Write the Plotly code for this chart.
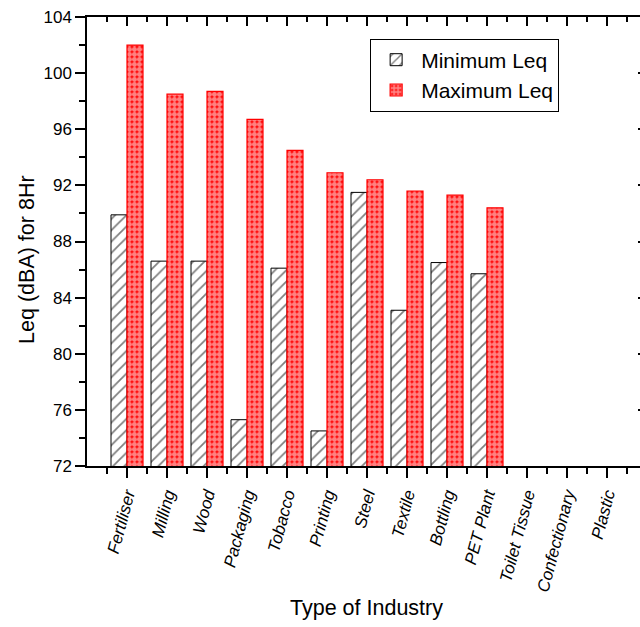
import plotly.graph_objects as go

# Noise levels by industry, dBA (Leq over 8 hours)
industries = ["Fertiliser", "Milling", "Wood", "Packaging", "Tobacco", "Printing",
              "Steel", "Textile", "Bottling", "PET Plant", "Toilet Tissue",
              "Confectionary", "Plastic"]
min_leq = [89.9, 86.6, 86.6, 75.3, 86.1, 74.5, 91.5, 83.1, 86.5, 85.7, None, None, None]
max_leq = [102.0, 98.5, 98.7, 96.7, 94.5, 92.9, 92.4, 91.6, 91.3, 90.4, None, None, None]

y_ticks = [72, 76, 80, 84, 88, 92, 96, 100, 104]

pos = list(range(len(industries)))
minor_pos = [p - 0.5 for p in pos] + [pos[-1] + 0.5]

FONT = "Liberation Sans, Arial, sans-serif"
X_RANGE = [-1, 12.825]
Y_RANGE = [72, 104]

fig = go.Figure()
fig.add_trace(go.Bar(
    x=pos, y=min_leq, name="Minimum Leq",
    marker=dict(color="white", line=dict(color="black", width=1),
                pattern=dict(shape="/", fgcolor="black", bgcolor="white",
                             size=8, solidity=0.22)),
))
fig.add_trace(go.Bar(
    x=pos, y=max_leq, name="Maximum Leq",
    marker=dict(color="red", line=dict(color="red", width=1.2),
                pattern=dict(shape=".", fgcolor="white", bgcolor="red",
                             size=5, solidity=0.78)),
))
# helper traces so the mirrored tick axes are drawn
fig.add_trace(go.Scatter(x=[], y=[], xaxis="x2", yaxis="y", showlegend=False, hoverinfo="skip"))
fig.add_trace(go.Scatter(x=[], y=[], xaxis="x", yaxis="y2", showlegend=False, hoverinfo="skip"))

fig.update_layout(
    width=640, height=627,
    margin=dict(l=87, r=0, t=17, b=161),
    paper_bgcolor="white", plot_bgcolor="white",
    font=dict(family=FONT, color="black"),
    barmode="group", bargap=0.2, bargroupgap=0,
    showlegend=True,
    legend=dict(x=0.512, y=0.952, xanchor="left", yanchor="top",
                bordercolor="black", borderwidth=1, bgcolor="white",
                font=dict(size=21, family=FONT), tracegroupgap=0,
                itemwidth=40),
    xaxis=dict(
        range=X_RANGE, tickmode="array", tickvals=pos, ticktext=industries,
        tickangle=-75, tickfont=dict(size=17, family=FONT, style="italic"),
        ticks="outside", ticklen=10, tickwidth=1.5, tickcolor="black",
        minor=dict(tickvals=minor_pos, ticks="outside", ticklen=6,
                   tickwidth=1.5, tickcolor="black"),
        showline=True, linecolor="black", linewidth=1.5,
        showgrid=False, zeroline=False,
    ),
    xaxis2=dict(
        overlaying="x", side="top", anchor="y", range=X_RANGE,
        tickmode="array", tickvals=pos, showticklabels=False,
        ticks="inside", ticklen=9, tickwidth=1.5, tickcolor="black",
        minor=dict(tickvals=minor_pos, ticks="inside", ticklen=5,
                   tickwidth=1.5, tickcolor="black"),
        showline=True, linecolor="black", linewidth=1.5,
        showgrid=False, zeroline=False,
    ),
    yaxis=dict(
        range=Y_RANGE, tickmode="array", tickvals=y_ticks,
        tickfont=dict(size=17, family=FONT),
        ticks="outside", ticklen=10, tickwidth=1.5, tickcolor="black",
        minor=dict(dtick=2, tick0=72, ticks="outside", ticklen=6,
                   tickwidth=1.5, tickcolor="black"),
        showline=True, linecolor="black", linewidth=1.5,
        showgrid=False, zeroline=False,
    ),
    yaxis2=dict(
        overlaying="y", side="right", anchor="x", range=Y_RANGE,
        tickmode="array", tickvals=y_ticks, showticklabels=False,
        ticks="inside", ticklen=2, tickwidth=1.5, tickcolor="black",
        showline=False, showgrid=False, zeroline=False,
    ),
    annotations=[
        dict(text="Leq (dBA) for 8Hr", xref="paper", yref="paper",
             x=-0.1085, y=0.459, xanchor="center", yanchor="middle",
             textangle=-90, showarrow=False, font=dict(size=21.5, family=FONT)),
        dict(text="Type of Industry", xref="paper", yref="paper",
             x=0.506, y=-0.316, xanchor="center", yanchor="middle",
             showarrow=False, font=dict(size=21.5, family=FONT)),
    ],
)

fig.write_html("out.html")
